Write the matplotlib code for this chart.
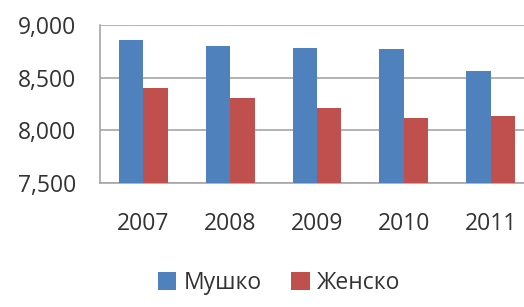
import numpy as np
import matplotlib.pyplot as plt

plt.rcParams['font.family'] = ['Open Sans', 'DejaVu Sans']

years = ["2007", "2008", "2009", "2010", "2011"]
male = [8858, 8796, 8782, 8773, 8563]
female = [8402, 8304, 8209, 8115, 8136]
labels = ["Мушко", "Женско"]
colors = ["#4F81BD", "#C0504D"]

W, H = 524, 307
fig = plt.figure(figsize=(W / 100, H / 100), dpi=100)
ax = fig.add_axes([100 / W, (H - 183) / H, 434 / W, 158 / H])

x = np.arange(len(years))
bw = 0.28
ax.bar(x - bw / 2, male, bw, color=colors[0], label=labels[0], zorder=3)
ax.bar(x + bw / 2, female, bw, color=colors[1], label=labels[1], zorder=3)

ax.set_xlim(-0.5, len(years) - 0.5)
ax.set_ylim(7500, 9000)
ax.set_yticks([7500, 8000, 8500, 9000])
ax.set_yticklabels([f"{v:,}" for v in [7500, 8000, 8500, 9000]])
ax.set_xticks(x)
ax.set_xticklabels(years)
ax.yaxis.grid(True, color="#A6A6A6", linewidth=1.2, zorder=0)
for s in ["top", "right"]:
    ax.spines[s].set_visible(False)
for s in ["left", "bottom"]:
    ax.spines[s].set_color("#A6A6A6")
    ax.spines[s].set_linewidth(1.2)
ax.tick_params(axis="both", length=0, labelsize=16.5, colors="#333333")
ax.tick_params(axis="y", pad=17)
ax.tick_params(axis="x", pad=21)

fig.legend(loc="center", bbox_to_anchor=(279 / W, 1 - 283 / H), ncol=2,
           frameon=False, fontsize=16.5, handlelength=0.8, handleheight=0.8,
           handletextpad=0.3, columnspacing=1.3, labelcolor="#333333")

fig.savefig("out.png", dpi=100)
